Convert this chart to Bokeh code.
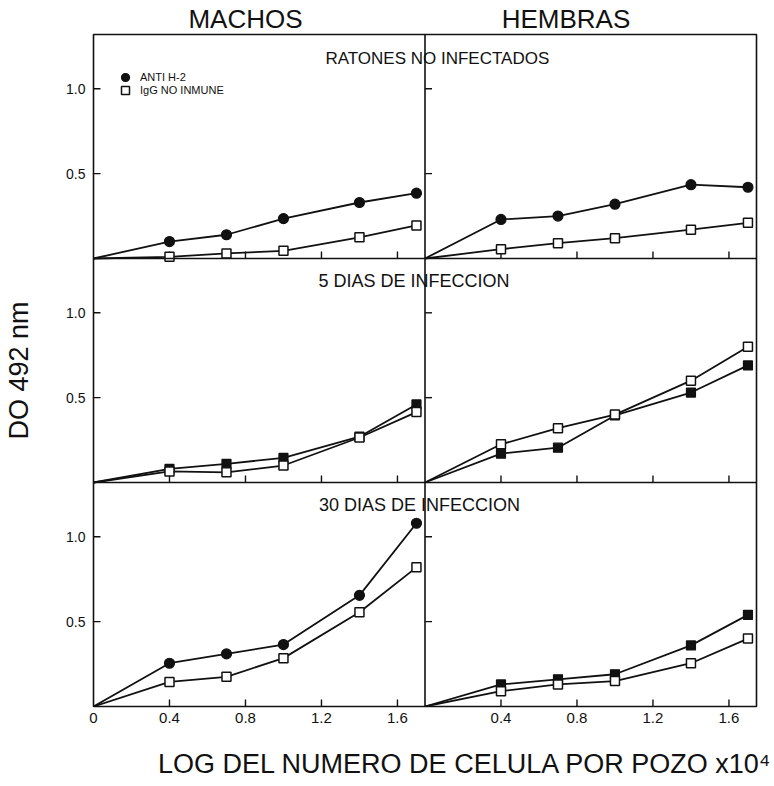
import math
from bokeh.plotting import figure
from bokeh.models import (Range1d, LinearAxis, FixedTicker, CustomJSTickFormatter,
                          Span, Label, Legend, LegendItem)
from bokeh.embed import file_html
from bokeh.resources import INLINE

# ---------------- data ----------------
# x: log of number of cells per well (x10^4); every curve starts at the origin
X_POINTS = [0.4, 0.7, 1.0, 1.4, 1.7]
X_ORIGIN = 0.0
Y_ORIGIN = 0.0

COLUMN_TITLES = ["MACHOS", "HEMBRAS"]
ROW_TITLES = ["RATONES NO INFECTADOS", "5 DIAS DE INFECCION", "30 DIAS DE INFECCION"]
SERIES_NAMES = ["ANTI H-2", "IgG NO INMUNE"]
Y_TITLE = "DO 492 nm"
X_TITLE = "LOG DEL NUMERO DE CELULA POR POZO x10\u2074"

# ANTI H-2
ANTI_MACHOS_NI = [0.10, 0.14, 0.235, 0.33, 0.385]
ANTI_HEMBRAS_NI = [0.23, 0.25, 0.32, 0.435, 0.42]
ANTI_MACHOS_5D = [0.08, 0.11, 0.145, 0.27, 0.46]
ANTI_HEMBRAS_5D = [0.17, 0.205, 0.395, 0.53, 0.69]
ANTI_MACHOS_30D = [0.255, 0.31, 0.365, 0.655, 1.08]
ANTI_HEMBRAS_30D = [0.13, 0.16, 0.19, 0.36, 0.54]

# IgG NO INMUNE
IGG_MACHOS_NI = [0.01, 0.03, 0.045, 0.125, 0.195]
IGG_HEMBRAS_NI = [0.055, 0.09, 0.12, 0.17, 0.21]
IGG_MACHOS_5D = [0.065, 0.06, 0.10, 0.265, 0.415]
IGG_HEMBRAS_5D = [0.225, 0.32, 0.40, 0.60, 0.80]
IGG_MACHOS_30D = [0.145, 0.175, 0.285, 0.555, 0.82]
IGG_HEMBRAS_30D = [0.09, 0.13, 0.15, 0.255, 0.40]

X_TICKS = [0.4, 0.8, 1.2, 1.6]
Y_TICKS = [0.5, 1.0]

# ---------------- layout / style ----------------
XMAX = 1.745   # visible x extent of one panel
YMAX = 1.32    # visible y extent of one panel
INK = "#111111"
FONT = "Liberation Sans"

COL_RANGES = ["default", "right"]
ROW_RANGES = ["r1", "r2", "default"]

p = figure(width=774, height=786,
           x_range=Range1d(0, 2 * XMAX), y_range=Range1d(0, 3 * YMAX),
           output_backend="svg", toolbar_location=None,
           x_axis_type=None, y_axis_type=None,
           min_border_left=93, min_border_right=18,
           min_border_top=33, min_border_bottom=80)
p.title.visible = False
p.extra_x_ranges = {"right": Range1d(-XMAX, XMAX)}
p.extra_y_ranges = {"r1": Range1d(-2 * YMAX, YMAX), "r2": Range1d(-YMAX, 2 * YMAX)}
p.outline_line_color = INK
p.outline_line_width = 1.6
p.background_fill_color = "white"
p.border_fill_color = "white"

# panel dividers
p.add_layout(Span(location=XMAX, dimension="height", line_color=INK, line_width=1.6))
for k in (1, 2):
    p.add_layout(Span(location=k * YMAX, dimension="width", line_color=INK, line_width=1.6))

no_ticks = dict(axis_line_color=None, major_tick_in=0, major_tick_out=0,
                minor_tick_in=0, minor_tick_out=0, major_label_text_font=FONT,
                major_label_text_color=INK)

# left: tick labels of the three rows + the y title
yax = LinearAxis(
    ticker=FixedTicker(ticks=[t + k * YMAX for k in range(3) for t in Y_TICKS], minor_ticks=[]),
    formatter=CustomJSTickFormatter(args=dict(ymax=YMAX),
                                    code="return (tick - ymax*Math.floor(tick/ymax + 1e-6)).toFixed(1);"),
    major_label_standoff=8, major_label_text_font_size="14px",
    axis_label=Y_TITLE, axis_label_text_font=FONT, axis_label_text_font_size="27px",
    axis_label_text_font_style="normal", axis_label_text_color=INK,
    axis_label_standoff=29, **no_ticks)
p.add_layout(yax, "left")

# bottom: tick labels of both columns
xax = LinearAxis(
    ticker=FixedTicker(ticks=[0.0] + X_TICKS + [XMAX + t for t in X_TICKS], minor_ticks=[]),
    formatter=CustomJSTickFormatter(args=dict(xmax=XMAX),
                                    code="const v = tick > xmax - 1e-6 ? tick - xmax : tick; return v < 1e-6 ? '0' : v.toFixed(1);"),
    major_label_standoff=6, major_label_text_font_size="15px", **no_ticks)
p.add_layout(xax, "below")

# bottom: the x title, centred where the reference has it
xtitle = LinearAxis(
    ticker=FixedTicker(ticks=[1.958], minor_ticks=[]),
    formatter=CustomJSTickFormatter(args=dict(t=X_TITLE), code="return t;"),
    major_label_standoff=23, major_label_text_font_size="27px", **no_ticks)
p.add_layout(xtitle, "below")

# top: the column titles
top = LinearAxis(
    ticker=FixedTicker(ticks=[0.80, XMAX + 0.742], minor_ticks=[]),
    formatter=CustomJSTickFormatter(args=dict(xmax=XMAX, names=COLUMN_TITLES),
                                    code="return tick < xmax ? names[0] : names[1];"),
    major_label_standoff=1, major_label_text_font_size="26px", **no_ticks)
p.add_layout(top, "above")

# inward tick marks of every panel
for rname in ROW_RANGES:
    for cname in COL_RANGES:
        p.ray(x=X_TICKS, y=[0.0] * len(X_TICKS), length=7, length_units="screen",
              angle=math.pi / 2, line_color=INK, line_width=1.4,
              x_range_name=cname, y_range_name=rname)
        p.ray(x=[0.0] * len(Y_TICKS), y=Y_TICKS, length=7, length_units="screen",
              angle=0, line_color=INK, line_width=1.4,
              x_range_name=cname, y_range_name=rname)

# panels: (row, col, anti, igg, marker used for ANTI H-2)
PANELS = [
    (0, 0, ANTI_MACHOS_NI, IGG_MACHOS_NI, "circle"),
    (0, 1, ANTI_HEMBRAS_NI, IGG_HEMBRAS_NI, "circle"),
    (1, 0, ANTI_MACHOS_5D, IGG_MACHOS_5D, "square"),
    (1, 1, ANTI_HEMBRAS_5D, IGG_HEMBRAS_5D, "square"),
    (2, 0, ANTI_MACHOS_30D, IGG_MACHOS_30D, "circle"),
    (2, 1, ANTI_HEMBRAS_30D, IGG_HEMBRAS_30D, "square"),
]

legend_renderers = {}
for r, c, anti, igg, amark in PANELS:
    kw = dict(x_range_name=COL_RANGES[c], y_range_name=ROW_RANGES[r])
    xs = [X_ORIGIN] + X_POINTS
    p.line(xs, [Y_ORIGIN] + anti, line_color=INK, line_width=1.8, **kw)
    p.line(xs, [Y_ORIGIN] + igg, line_color=INK, line_width=1.8, **kw)
    ra = p.scatter(X_POINTS, anti, marker=amark, size=10 if amark == "circle" else 9,
                   fill_color=INK, line_color=INK, line_width=1.2, **kw)
    ri = p.scatter(X_POINTS, igg, marker="square", size=9, fill_color="white",
                   line_color=INK, line_width=1.5, **kw)
    if (r, c) == (0, 0):
        legend_renderers["anti"] = ra
        legend_renderers["igg"] = ri

# legend (one box per entry so the entries sit close together)
leg_style = dict(glyph_width=20, glyph_height=20, label_height=20, label_standoff=5,
                 padding=0, margin=0, spacing=0, border_line_color=None,
                 background_fill_alpha=0, label_text_font_size="11px",
                 label_text_font=FONT, label_text_color=INK)
p.add_layout(Legend(items=[LegendItem(label=SERIES_NAMES[0], renderers=[legend_renderers["anti"]])],
                    location=(22, 619), **leg_style))
p.add_layout(Legend(items=[LegendItem(label=SERIES_NAMES[1], renderers=[legend_renderers["igg"]])],
                    location=(22, 606), **leg_style))

# row titles (inside the frame)
txt = dict(text_align="center", text_baseline="middle", text_font=FONT, text_color=INK)
p.add_layout(Label(x=1.81, y=1.18, y_range_name="r1", text=ROW_TITLES[0],
                   text_font_size="17px", **txt))
p.add_layout(Label(x=1.687, y=1.185, y_range_name="r2", text=ROW_TITLES[1],
                   text_font_size="18px", **txt))
p.add_layout(Label(x=1.716, y=1.185, text=ROW_TITLES[2], text_font_size="18px", **txt))

open("out.html", "w").write(file_html(p, INLINE))
